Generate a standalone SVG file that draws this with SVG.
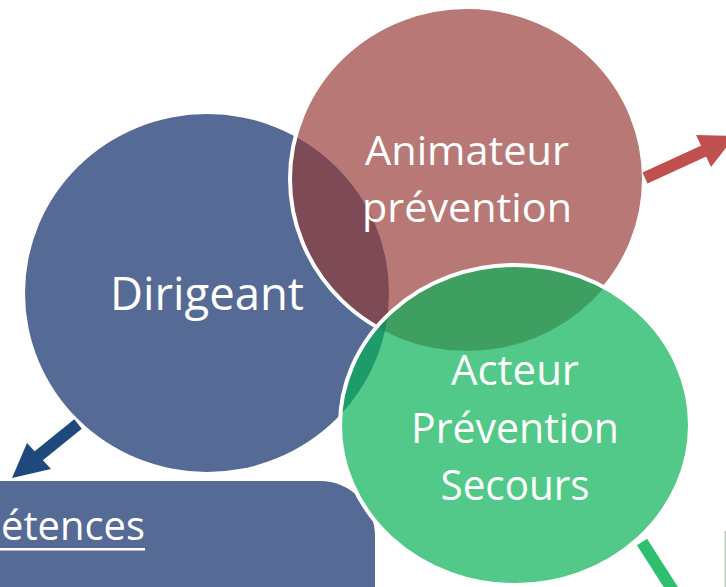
<svg xmlns="http://www.w3.org/2000/svg" xmlns:xlink="http://www.w3.org/1999/xlink" width="726" height="587" viewBox="0 0 726 587">
<style>
  .lbl { font-family: "Open Sans", "Noto Sans", "Liberation Sans", sans-serif; fill: #ffffff; text-anchor: middle; }
  .ring { fill: none; stroke: #ffffff; stroke-width: 4; }
</style>
<defs>
  <ellipse id="eB" cx="207" cy="293" rx="182" ry="179"/>
  <ellipse id="eR" cx="467" cy="179" rx="177" ry="172"/>
  <ellipse id="eG" cx="515" cy="425" rx="175" ry="160"/>
  <clipPath id="cB"><use xlink:href="#eB"/></clipPath>
  <clipPath id="cR"><use xlink:href="#eR"/></clipPath>
  <clipPath id="cG"><use xlink:href="#eG"/></clipPath>
</defs>
<rect width="726" height="587" fill="#ffffff"/>

<g id="node-competences">
  <rect x="-60" y="481" width="435" height="170" rx="55" ry="55" fill="#566a96"/>
  <text class="lbl" x="1" y="540" font-size="41" style="text-anchor:start" textLength="144" lengthAdjust="spacingAndGlyphs">étences</text>
  <rect x="0" y="548" width="145" height="2.5" fill="#ffffff"/>
</g>

<g id="node-dirigeant">
  <use xlink:href="#eB" fill="#566a96"/>
</g>

<g id="node-animateur">
  <use xlink:href="#eR" fill="#b87876"/>
  <g clip-path="url(#cR)"><use xlink:href="#eB" fill="#7e4a56"/></g>
  <use xlink:href="#eR" class="ring"/>
</g>

<g id="node-acteur">
  <use xlink:href="#eG" fill="#52c988"/>
  <g clip-path="url(#cG)">
    <use xlink:href="#eR" fill="#3f9f60"/>
    <use xlink:href="#eB" fill="#1e9b6a"/>
    <g clip-path="url(#cR)"><use xlink:href="#eB" fill="#1f8a5a"/></g>
  </g>
  <use xlink:href="#eG" class="ring"/>
</g>

<g id="labels">
  <text class="lbl" x="207" y="310" font-size="46" textLength="194" lengthAdjust="spacingAndGlyphs">Dirigeant</text>
  <text class="lbl" x="467" y="165" font-size="41" textLength="204" lengthAdjust="spacingAndGlyphs">Animateur</text>
  <text class="lbl" x="467" y="222" font-size="41" textLength="210" lengthAdjust="spacingAndGlyphs">prévention</text>
  <text class="lbl" x="515" y="385" font-size="42" textLength="128" lengthAdjust="spacingAndGlyphs">Acteur</text>
  <text class="lbl" x="515" y="443" font-size="42" textLength="208" lengthAdjust="spacingAndGlyphs">Prévention</text>
  <text class="lbl" x="515" y="500" font-size="42" textLength="149" lengthAdjust="spacingAndGlyphs">Secours</text>
</g>

<g id="connectors">
  <line x1="78" y1="424" x2="36" y2="458" stroke="#1f497d" stroke-width="12"/>
  <polygon points="12,478 27,443 51,469" fill="#1f497d"/>
  <line x1="645" y1="178" x2="706" y2="150" stroke="#c0504d" stroke-width="12"/>
  <polygon points="735,136 696,135 711,167" fill="#c0504d"/>
  <line x1="642" y1="542" x2="674" y2="592" stroke="#2ec06e" stroke-width="12"/>
  <line x1="725.3" y1="531" x2="725.3" y2="587" stroke="#b9cbbf" stroke-width="1.5"/>
</g>
</svg>
